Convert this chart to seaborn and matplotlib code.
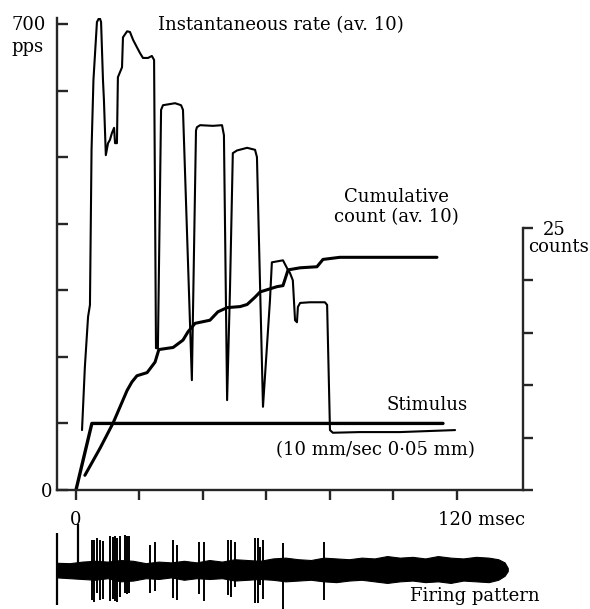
import numpy as np
import pandas as pd
import matplotlib
matplotlib.use("Agg")
import matplotlib.pyplot as plt
import seaborn as sns

# ---------------- data ----------------
# Instantaneous rate (av. 10), pps vs msec
rate_t = [1.9, 2.8, 3.8, 4.4, 4.9, 5.5, 6.6, 7.4, 7.9, 8.5, 8.8, 9.4, 10.1, 10.7,
          11.3, 12.0, 12.3, 12.9, 13.2, 14.5, 14.8, 16.1, 17.0, 18.0, 19.2, 20.2,
          21.1, 22.7, 23.9, 24.6, 25.2, 25.8, 26.8, 27.4, 31.2, 33.1, 33.7, 36.5,
          37.8, 38.1, 39.1, 43.1, 46.0, 46.6, 47.6, 48.5, 49.4, 50.7, 53.9, 56.4,
          57.0, 58.9, 61.1, 61.7, 65.2, 66.5, 67.4, 68.3, 69.0, 69.6, 69.9, 70.6,
          73.7, 78.4, 79.1, 80.0, 80.9, 89.4, 102.0, 119.4]
rate_v = [90, 185, 260, 278, 511, 616, 703, 710, 703, 616, 586, 503, 521, 526,
          536, 544, 521, 521, 620, 635, 680, 689, 688, 676, 665, 656,
          649, 649, 652, 646, 213, 213, 571, 578, 581, 578, 571, 165,
          540, 545, 548, 547, 548, 533, 135, 300, 506, 510, 514, 511,
          500, 125, 285, 342, 345, 333, 326, 315, 255, 252, 275, 281,
          282, 282, 278, 90, 86, 87, 87, 90]

# Cumulative count (av. 10), counts vs msec
cum_t = [2.8, 7.6, 11.7, 16.1, 17.6, 19.2, 22.4, 24.9, 26.1, 30.6, 33.7, 35.3,
         37.5, 42.2, 44.7, 47.6, 51.7, 53.9, 56.4, 58.0, 63.3, 65.2, 66.8, 70.6,
         75.9, 77.8, 83.1, 102.0, 113.7]
cum_v = [1.4, 4.0, 6.4, 9.5, 10.3, 10.9, 11.2, 12.2, 13.4, 13.6, 14.3, 15.1,
         15.9, 16.2, 17.0, 17.4, 17.5, 17.7, 18.4, 18.9, 19.4, 19.5, 21.0, 21.2,
         21.3, 22.0, 22.2, 22.2, 22.2]

# Stimulus (10 mm/sec 0.05 mm), drawn on the pps scale
stim_t = [0.0, 5.0, 115.6]
stim_v = [0, 100, 100]

# Firing pattern: spike times (msec) and up/down excursions (relative units)
spike_t = [5.0, 5.7, 6.6, 7.6, 8.5, 10.7, 11.7, 12.3, 12.9, 13.9, 15.4, 16.1,
           16.7, 23.3, 24.9, 30.6, 31.8, 38.7, 40.3, 47.9, 48.8, 50.1, 56.4,
           57.3, 58.0, 58.9, 65.2, 78.1]
spike_up = [0.75, 0.74, 0.80, 0.75, 0.72, 0.85, 0.82, 0.86, 0.80, 0.84, 0.87,
            0.86, 0.85, 0.62, 0.70, 0.75, 0.62, 0.70, 0.70, 0.75, 0.75, 0.70,
            0.80, 0.80, 0.57, 0.75, 0.67, 0.70]
spike_dn = [0.77, 0.82, 0.60, 0.77, 0.75, 0.80, 0.75, 0.80, 0.82, 0.70, 0.60,
            0.62, 0.60, 0.60, 0.55, 0.72, 0.77, 0.62, 0.80, 0.65, 0.70, 0.45,
            0.85, 0.85, 0.40, 0.75, 1.00, 0.77]
artifact_t = 0.6
artifact_up = 1.15

band_t = [-6, -2, 2, 6, 10, 14, 18, 22, 26, 30, 34, 38, 42, 46, 50, 54, 58, 62,
          66, 70, 74, 78, 82, 86, 90, 94, 98, 102, 106, 110, 114, 118, 122, 126,
          130, 133, 135, 136]
band_top = [0.17, 0.16, 0.20, 0.22, 0.20, 0.24, 0.22, 0.16, 0.20, 0.18, 0.22,
            0.18, 0.24, 0.20, 0.26, 0.24, 0.22, 0.28, 0.30, 0.26, 0.24, 0.30,
            0.28, 0.26, 0.30, 0.28, 0.34, 0.30, 0.32, 0.28, 0.34, 0.30, 0.28,
            0.32, 0.30, 0.26, 0.18, 0.04]
band_bot = [-0.20, -0.22, -0.24, -0.26, -0.22, -0.30, -0.28, -0.22, -0.24,
            -0.20, -0.26, -0.22, -0.24, -0.22, -0.28, -0.26, -0.24, -0.26,
            -0.30, -0.28, -0.26, -0.30, -0.32, -0.28, -0.26, -0.30, -0.34,
            -0.30, -0.28, -0.32, -0.30, -0.34, -0.28, -0.30, -0.32, -0.26,
            -0.16, -0.04]

# ---------------- figure ----------------
sns.set_style("ticks")
plt.rcParams["font.family"] = ["DejaVu Serif"]
plt.rcParams["axes.linewidth"] = 1.7

W, H = 590, 609
fig = plt.figure(figsize=(W / 100, H / 100), dpi=100)


def fx(px):
    return px / W


def fy(py):
    return 1 - py / H


x0, x1 = 57, 523
ax = fig.add_axes([fx(x0), fy(490), fx(x1) - fx(x0), fy(18) - fy(490)])
ax.set_xlim(-5.98, 140.8)
ax.set_ylim(0, 709)

rate_df = pd.DataFrame({"t": rate_t, "v": rate_v})
stim_df = pd.DataFrame({"t": stim_t, "v": stim_v})
cum_df = pd.DataFrame({"t": cum_t, "v": cum_v})

sns.lineplot(data=rate_df, x="t", y="v", ax=ax, color="black", lw=1.5,
             sort=False, estimator=None)
sns.lineplot(data=stim_df, x="t", y="v", ax=ax, color="black", lw=2.4,
             sort=False, estimator=None)

ax.spines["top"].set_visible(False)
ax.spines["right"].set_visible(False)
ax.set_xlabel("")
ax.set_ylabel("")
ax.set_yticks(np.arange(0, 701, 100))
ax.set_xticks(np.arange(0, 121, 20))
ax.tick_params(axis="y", direction="in", length=8, width=1.7, labelleft=False)
ax.tick_params(axis="x", direction="out", length=7, width=1.7, labelbottom=False)

ax2 = ax.twinx()
ax2.set_ylim(0, 709 * 25 / 393.6)
sns.lineplot(data=cum_df, x="t", y="v", ax=ax2, color="black", lw=2.2,
             sort=False, estimator=None)
for s in ["left", "top", "bottom"]:
    ax2.spines[s].set_visible(False)
ax2.spines["right"].set_bounds(0, 25)
ax2.set_yticks(np.arange(0, 26, 5))
ax2.tick_params(axis="y", direction="out", length=7, width=1.7, labelright=False)
ax2.set_ylabel("")
ax2.set_xlim(-5.98, 140.8)

# firing pattern
axf = fig.add_axes([fx(x0), fy(609), fx(x1) - fx(x0), fy(530) - fy(609)])
axf.set_xlim(-5.98, 140.8)
axf.set_ylim(-1, 1)
axf.axis("off")
axf.fill_between(band_t, band_bot, band_top, color="black", lw=0.8)
axf.vlines(spike_t, [-d for d in spike_dn], spike_up, color="black", lw=1.4)
axf.vlines([artifact_t], [-0.2], [artifact_up], color="black", lw=1.6,
           clip_on=False)
axf.vlines([-5.98], [-0.9], [0.92], color="black", lw=1.6, clip_on=False)

# ---------------- texts ----------------
fs = 13


def txt(px, py, s, ha="left", va="baseline", size=fs):
    fig.text(fx(px), fy(py), s, ha=ha, va=va, fontsize=size, color="black")


txt(158, 30, "Instantaneous rate (av. 10)")
txt(46, 30, "700", ha="right")
txt(44, 52, "pps", ha="right")
txt(52, 497, "0", ha="right")
txt(76, 525, "0", ha="center")
txt(438, 525, "120 msec")
txt(543, 235, "25")
txt(528, 252, "counts")
txt(396, 202, "Cumulative", ha="center")
txt(396, 222, "count (av. 10)", ha="center")
txt(387, 410, "Stimulus")
txt(276, 455, "(10 mm/sec 0\u00b705 mm)")
txt(410, 601, "Firing pattern")

fig.savefig("out.png", dpi=100)
